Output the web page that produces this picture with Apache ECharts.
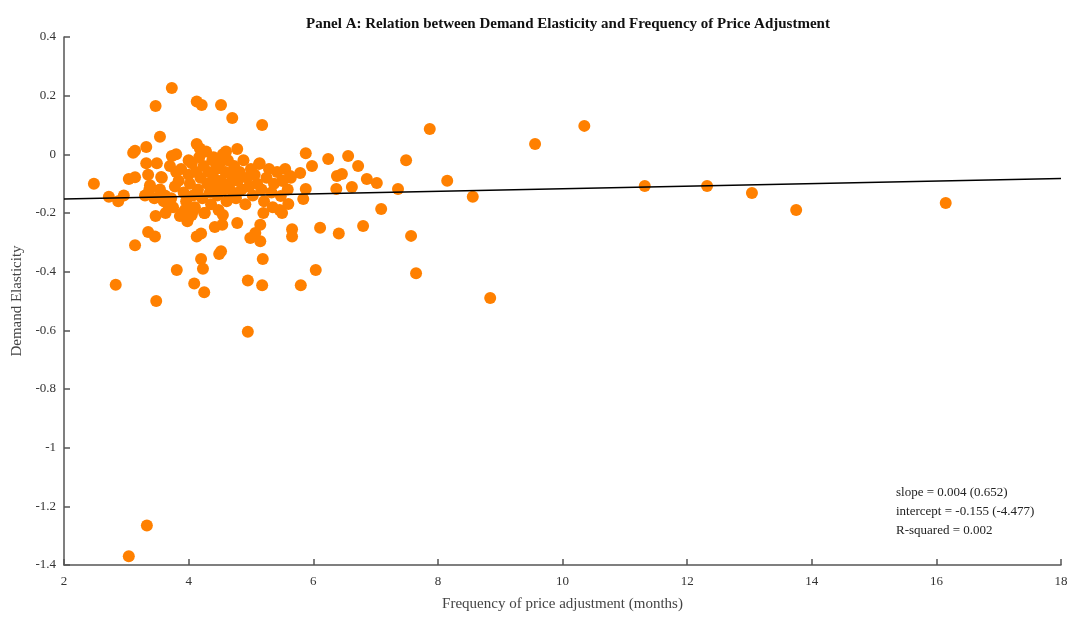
<!DOCTYPE html>
<html><head><meta charset="utf-8">
<script src="https://cdn.jsdelivr.net/npm/echarts@6/dist/echarts.min.js"></script>
<style>html,body{margin:0;padding:0;background:#fff}#c{width:1073px;height:621px}</style>
</head><body><div id="c"></div>
<script>
const title = 'Panel A: Relation between Demand Elasticity and Frequency of Price Adjustment';
const xName = 'Frequency of price adjustment (months)';
const yName = 'Demand Elasticity';
const statsLines = ['slope = 0.004 (0.652)', 'intercept = -0.155 (-4.477)', 'R-squared = 0.002'];
const xTicks = [2,4,6,8,10,12,14,16,18];
const yTicks = [-1.4,-1.2,-1,-0.8,-0.6,-0.4,-0.2,0,0.2,0.4];

// regression line endpoints
const lineX = [2, 18];
const lineY = [-0.152, -0.082];

// scatter points: [frequency, elasticity]
const pointsLeft = [
[2.48,-0.10],[2.72,-0.145],[2.87,-0.16],[2.96,-0.14],[2.83,-0.445],[3.04,-1.37],[3.33,-1.265],[3.48,-0.50],
[3.14,-0.31],[3.35,-0.265],[3.46,-0.28],[3.47,-0.21],[3.11,0.005],[3.14,0.012],[3.04,-0.084],[3.14,-0.078],
[3.32,0.025],[3.47,0.165],[3.73,0.226],[3.54,0.06],[3.32,-0.03],[3.49,-0.03],[3.35,-0.07],[3.38,-0.105],
[3.30,-0.14],[3.54,-0.12],[3.57,-0.08],[3.62,-0.14],[3.67,-0.17],[3.73,-0.006],[3.70,-0.04],[3.80,-0.06],
[3.81,-0.394],[3.86,-0.21],[3.94,-0.19],[3.99,-0.22],[4.09,-0.44],[4.13,0.18],[4.21,0.168],[4.20,-0.27],
[4.13,-0.28],[4.20,-0.357],[4.23,-0.39],[4.25,-0.47],[4.52,0.168],[4.70,0.124],[5.18,0.10],[4.13,0.035],
[4.78,0.018],[3.56,-0.077],[3.37,-0.12],[3.45,-0.15],[3.60,-0.16],[3.63,-0.20],[3.72,-0.15],[3.75,-0.18],
[3.98,-0.228],[4.05,-0.207],[4.08,-0.19],[3.80,0.0],[4.0,-0.02],[4.18,0.02],[4.4,-0.01],[4.6,0.01],
[4.25,-0.2],[3.9,-0.2]
];
const pointsCore = [
[3.78,-0.11],[3.84,-0.09],[3.88,-0.05],[3.92,-0.13],[3.96,-0.16],[4.00,-0.07],[4.02,-0.10],[4.05,-0.03],
[4.07,-0.14],[4.10,-0.18],[4.12,-0.06],[4.15,-0.12],[4.17,-0.01],[4.19,-0.08],[4.22,-0.15],[4.24,-0.04],
[4.26,-0.20],[4.28,0.01],[4.30,-0.10],[4.32,-0.06],[4.34,-0.13],[4.36,-0.17],[4.38,-0.02],[4.40,-0.08],
[4.42,-0.11],[4.44,-0.05],[4.46,-0.14],[4.48,-0.19],[4.50,-0.03],[4.52,-0.09],[4.55,0.00],[4.57,-0.12],
[4.59,-0.06],[4.61,-0.16],[4.63,-0.02],[4.66,-0.10],[4.68,-0.07],[4.71,-0.13],[4.73,-0.04],[4.76,-0.15],
[4.79,-0.09],[4.82,-0.06],[4.85,-0.12],[4.88,-0.02],[4.91,-0.17],[4.94,-0.08],[4.97,-0.11],[5.00,-0.05],
[5.03,-0.14],[5.06,-0.07],[5.10,-0.10],[5.14,-0.03],[5.17,-0.12],[5.21,-0.16],[5.25,-0.08],[5.29,-0.05],
[5.33,-0.13],[5.37,-0.10],[5.42,-0.06],[5.46,-0.19],[5.50,-0.09],[5.55,-0.05],[5.59,-0.12],[5.64,-0.08],
[5.35,-0.18],[5.2,-0.2],[5.5,-0.2]
];
const pointsLow = [
[6.11,-0.25],[6.41,-0.27],[6.80,-0.244],[6.04,-0.394],[5.80,-0.446],[5.18,-0.446],[4.95,-0.43],[5.19,-0.357],
[4.49,-0.34],[4.52,-0.33],[5.66,-0.255],[5.66,-0.28],[4.78,-0.234],[5.15,-0.24],[5.07,-0.268],[4.99,-0.285],
[5.15,-0.296],[4.42,-0.248],[4.54,-0.24],[4.55,-0.207],[4.95,-0.605]
];
const pointsRight = [
[5.13,-0.033],[5.88,0.004],[6.24,-0.016],[6.56,-0.006],[6.72,-0.04],[6.38,-0.074],[6.46,-0.067],[6.86,-0.084],
[7.02,-0.098],[6.62,-0.111],[6.37,-0.118],[5.88,-0.118],[5.48,-0.142],[5.60,-0.169],[5.84,-0.152],[5.98,-0.04],
[5.79,-0.064],[5.63,-0.074],[5.51,-0.09],
[7.87,0.086],[7.49,-0.02],[7.36,-0.118],[8.15,-0.09],[8.56,-0.145],[7.09,-0.186],[7.57,-0.278],[7.65,-0.405],
[8.84,-0.49],[9.56,0.035],[10.35,0.097],[11.32,-0.108],[12.32,-0.108],[13.04,-0.132],[13.75,-0.19],[16.15,-0.166]
];
const points = pointsLeft.concat(pointsCore, pointsLow, pointsRight);

const serif = '"Liberation Serif", "DejaVu Serif", serif';
const chart = echarts.init(document.getElementById('c'));
chart.setOption({
  animation: false,
  backgroundColor: '#fff',
  title: { text: title, left: 563, top: 12, textAlign: 'center',
    textStyle: { fontFamily: serif, fontWeight: 'bold', fontSize: 15, color: '#111' } },
  grid: { left: 64, right: 12, top: 37, bottom: 56, containLabel: false, outerBoundsMode: 'none' },
  xAxis: {
    type: 'value', min: 2, max: 18, interval: 2,
    name: xName, nameLocation: 'middle', nameGap: 32,
    nameTextStyle: { fontFamily: serif, fontSize: 15, color: '#444' },
    axisLine: { show: true, onZero: false, lineStyle: { color: '#555', width: 1.5 } },
    axisTick: { show: true, inside: true, length: 6, lineStyle: { color: '#555', width: 1.5 } },
    axisLabel: { fontFamily: serif, fontSize: 13, color: '#333', margin: 10, formatter: v => String(v) },
    splitLine: { show: false }
  },
  yAxis: {
    type: 'value', min: -1.4, max: 0.4, interval: 0.2,
    name: yName, nameLocation: 'middle', nameGap: 38,
    nameTextStyle: { fontFamily: serif, fontSize: 15, color: '#444' },
    axisLine: { show: true, onZero: false, lineStyle: { color: '#555', width: 1.5 } },
    axisTick: { show: true, inside: true, length: 6, lineStyle: { color: '#555', width: 1.5 } },
    axisLabel: { fontFamily: serif, fontSize: 13, color: '#333', margin: 8,
      formatter: v => String(+v.toFixed(1)) },
    splitLine: { show: false }
  },
  series: [
    { type: 'scatter', data: points, symbolSize: 12, itemStyle: { color: '#ff8000', opacity: 1 }, z: 2 },
    { type: 'line', data: lineX.map((x, i) => [x, lineY[i]]), symbol: 'none',
      lineStyle: { color: '#000', width: 1.5 }, z: 3 }
  ],
  graphic: statsLines.map((t, i) => ({
    type: 'text', left: 896, top: 486 + i * 19,
    style: { text: t, font: '13px ' + serif, fill: '#222' }
  }))
});
</script></body></html>
